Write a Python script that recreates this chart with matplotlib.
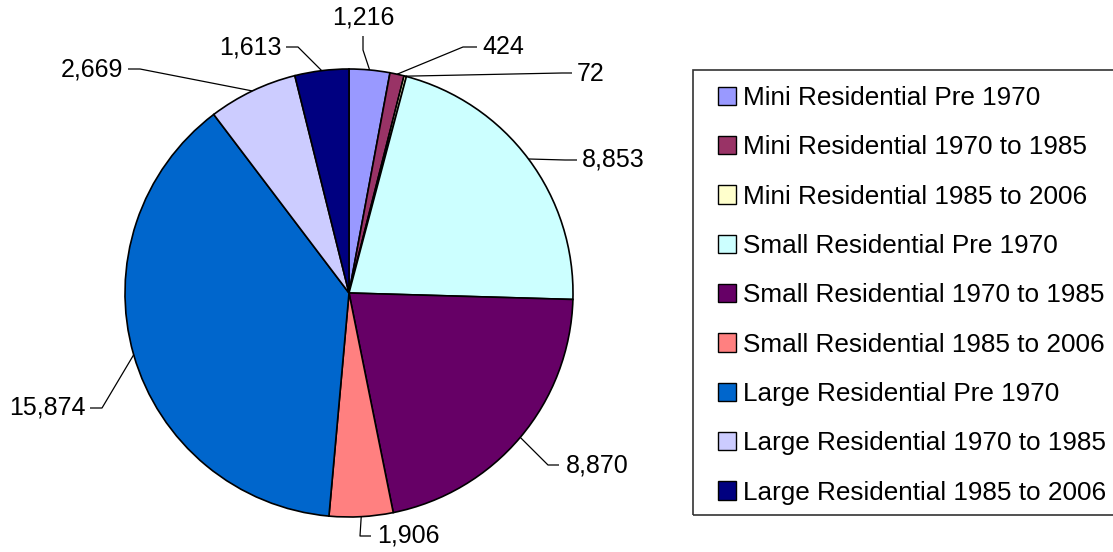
import numpy as np
import matplotlib.pyplot as plt
from matplotlib.patches import Patch, Rectangle

plt.rcParams['font.family'] = ['Liberation Sans', 'DejaVu Sans']

labels = ['Mini Residential Pre 1970', 'Mini Residential 1970 to 1985',
          'Mini Residential 1985 to 2006', 'Small Residential Pre 1970',
          'Small Residential 1970 to 1985', 'Small Residential 1985 to 2006',
          'Large Residential Pre 1970', 'Large Residential 1970 to 1985',
          'Large Residential 1985 to 2006']
values = [1216, 424, 72, 8853, 8870, 1906, 15874, 2669, 1613]
colors = ['#9999FF', '#993366', '#FFFFCC', '#CCFFFF', '#660066',
          '#FF8080', '#0066CC', '#CCCCFF', '#000080']

# label layout in pixel coords (top-left origin): text anchor, ha, elbow, line end
W, H = 1113, 552
label_pos = [((363, 17), 'center', (363, 50), (363, 36)),
             ((482, 47), 'left', (463, 47), (477, 47)),
             ((577, 74), 'left', (562, 73), (572, 73)),
             ((582, 160), 'left', (565, 160), (577, 160)),
             ((566, 465), 'left', (548, 465), (559, 465)),
             ((377, 536), 'left', (360, 536), (371, 536)),
             ((86, 408), 'right', (102, 408), (90, 408)),
             ((123, 69), 'right', (140, 69), (128, 69)),
             ((282, 47), 'right', (298, 47), (286, 47))]

cx, cy, r = 349, 293, 224

fig = plt.figure(figsize=(W / 100, H / 100), dpi=100)
ax = fig.add_axes([0, 0, 1, 1])
ax.axis('off')

wedges, _ = ax.pie(values, colors=colors, startangle=90, counterclock=False,
                   center=(cx, H - cy), radius=r,
                   wedgeprops=dict(edgecolor='black', linewidth=1.2))
ax.set_xlim(0, W)
ax.set_ylim(0, H)
ax.set_aspect('equal')

for w, v, (tp, ha, elbow, tend) in zip(wedges, values, label_pos):
    ang = np.deg2rad((w.theta1 + w.theta2) / 2)
    ex = cx + r * np.cos(ang)
    ey = (H - cy) + r * np.sin(ang)
    ax.plot([ex, elbow[0], tend[0]], [ey, H - elbow[1], H - tend[1]],
            color='black', lw=0.9, solid_capstyle='butt')
    ax.text(tp[0], H - tp[1], f'{v:,}', ha=ha, va='center', fontsize=18)

# legend frame
fig.patches.append(Rectangle((693 / W, 1 - 515 / H), 0.5, 445 / H,
                             transform=fig.transFigure, facecolor='none',
                             edgecolor='#333333', linewidth=1.2))

handles = [Patch(facecolor=c, edgecolor='black', linewidth=1) for c in colors]
fig.legend(handles, labels, loc='upper left',
           bbox_to_anchor=(718 / W, 1 - 86 / H), fontsize=18.8,
           frameon=False, handlelength=0.69, handleheight=0.69,
           handletextpad=0.27, labelspacing=0.97, borderpad=0,
           borderaxespad=0)

fig.savefig('out.png', dpi=100)
